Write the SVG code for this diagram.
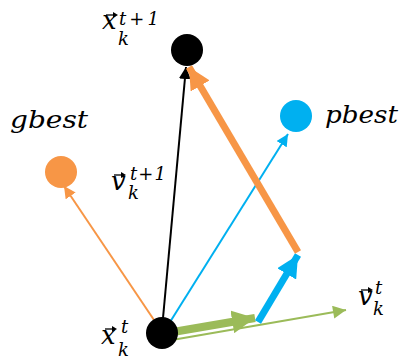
<svg xmlns="http://www.w3.org/2000/svg" width="400" height="359" viewBox="0 0 400 359">
<style>
.m{font-family:"DejaVu Serif","Liberation Serif",serif;font-style:italic;fill:#000}
.big{font-size:26px}
.sm{font-size:18px}
.lbl{font-size:24px}
.vec{stroke:#000;stroke-width:1.3;fill:none}
.vh{fill:#000}
</style>
<defs>
<marker id="hBlk" viewBox="0 0 10 10" refX="10" refY="5" markerWidth="12" markerHeight="12" markerUnits="userSpaceOnUse" orient="auto"><path d="M0,0L10,5L0,10Z" fill="#000"/></marker>
<marker id="hOrT" viewBox="0 0 10 10" refX="10" refY="5" markerWidth="12" markerHeight="12" markerUnits="userSpaceOnUse" orient="auto"><path d="M0,0L10,5L0,10Z" fill="#F79646"/></marker>
<marker id="hBlT" viewBox="0 0 10 10" refX="10" refY="5" markerWidth="12" markerHeight="12" markerUnits="userSpaceOnUse" orient="auto"><path d="M0,0L10,5L0,10Z" fill="#00B0F0"/></marker>
<marker id="hGrT" viewBox="0 0 10 10" refX="10" refY="5" markerWidth="14" markerHeight="13" markerUnits="userSpaceOnUse" orient="auto"><path d="M0,0L10,5L0,10Z" fill="#9BBB59"/></marker>
<marker id="hOrK" viewBox="0 0 10 10" refX="10" refY="5" markerWidth="22" markerHeight="22" markerUnits="userSpaceOnUse" orient="auto"><path d="M0,0L10,5L0,10Z" fill="#F79646"/></marker>
<marker id="hBlK" viewBox="0 0 10 10" refX="10" refY="5" markerWidth="22" markerHeight="22" markerUnits="userSpaceOnUse" orient="auto"><path d="M0,0L10,5L0,10Z" fill="#00B0F0"/></marker>
<marker id="hGrK" viewBox="0 0 10 10" refX="10" refY="5" markerWidth="23" markerHeight="23" markerUnits="userSpaceOnUse" orient="auto"><path d="M0,0L10,5L0,10Z" fill="#9BBB59"/></marker>
<g id="va"><path class="vec" d="M0,0H10"/><path class="vh" d="M12,0L7,-3L7,3Z"/></g>
</defs>
<g id="connectors" fill="none">
<line x1="154" y1="320" x2="64" y2="186" stroke="#F79646" stroke-width="2" marker-end="url(#hOrT)"/>
<line x1="170" y1="322" x2="288" y2="134" stroke="#00B0F0" stroke-width="2" marker-end="url(#hBlT)"/>
<line x1="163" y1="318" x2="186" y2="67" stroke="#000" stroke-width="2" marker-end="url(#hBlk)"/>
<line x1="172" y1="340" x2="346" y2="310" stroke="#9BBB59" stroke-width="2" marker-end="url(#hGrT)"/>
<line x1="173" y1="332" x2="255" y2="318" stroke="#9BBB59" stroke-width="8" marker-end="url(#hGrK)"/>
<line x1="258" y1="322" x2="298" y2="255" stroke="#00B0F0" stroke-width="7" marker-end="url(#hBlK)"/>
<line x1="298" y1="252" x2="189" y2="67" stroke="#F79646" stroke-width="7" marker-end="url(#hOrK)"/>
</g>
<g id="xt1">
<circle cx="187" cy="50" r="16" fill="#000"/>
<use href="#va" x="106" y="15"/>
<text class="m big" x="102" y="29">x</text>
<text class="m sm" x="119" y="25" textLength="40" lengthAdjust="spacing">t+1</text>
<text class="m sm" x="118" y="45">k</text>
</g>
<g id="gbest">
<circle cx="61" cy="172" r="16" fill="#F79646"/>
<text class="m lbl" x="10" y="128" textLength="78" lengthAdjust="spacingAndGlyphs">gbest</text>
</g>
<g id="pbest">
<circle cx="296" cy="116" r="16" fill="#00B0F0"/>
<text class="m lbl" x="325" y="123" textLength="73" lengthAdjust="spacingAndGlyphs">pbest</text>
</g>
<g id="vt1">
<use href="#va" x="114" y="175"/>
<text class="m big" x="111" y="190">v</text>
<text class="m sm" x="130" y="180" textLength="36" lengthAdjust="spacing">t+1</text>
<text class="m sm" x="128" y="199">k</text>
</g>
<g id="xt">
<circle cx="162" cy="333" r="16" fill="#000"/>
<use href="#va" x="105" y="329"/>
<text class="m big" x="101" y="344">x</text>
<text class="m sm" x="121" y="333">t</text>
<text class="m sm" x="118" y="356">k</text>
</g>
<g id="vt">
<use href="#va" x="361" y="290"/>
<text class="m big" x="358" y="305">v</text>
<text class="m sm" x="375" y="294">t</text>
<text class="m sm" x="373" y="315">k</text>
</g>
</svg>
